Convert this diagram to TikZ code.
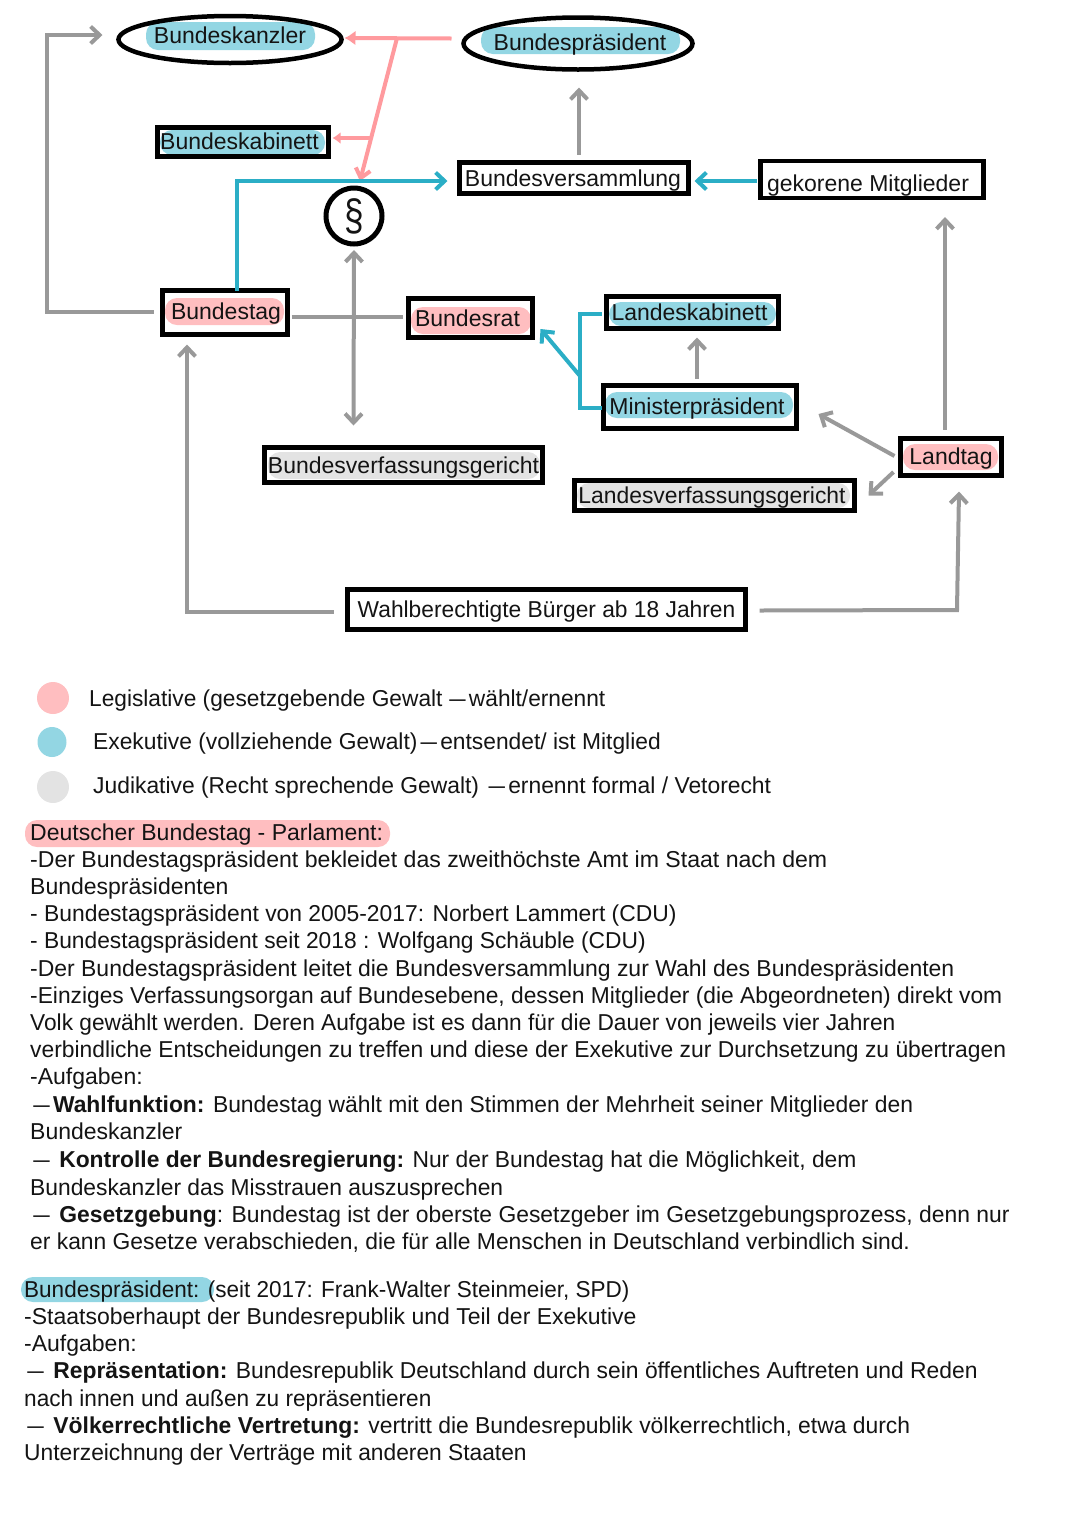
\documentclass[tikz,border=0pt]{standalone}
\usepackage{fontspec}
\setmainfont{Liberation Sans}
\usetikzlibrary{arrows.meta,shapes.geometric,calc}
\definecolor{inkc}{HTML}{141414}
\definecolor{graya}{HTML}{999999}
\definecolor{pinka}{HTML}{FF9A9E}
\definecolor{teala}{HTML}{2BAEC6}
\definecolor{pinkh}{HTML}{FFBEC0}
\definecolor{tealh}{HTML}{93D6E3}
\definecolor{grayh}{HTML}{E3E3E3}
\newcommand{\sx}[2]{\scalebox{#1}[1]{#2}}
\newcommand{\dsh}{\hspace*{3.2pt}\scalebox{0.72}[1]{—}\hspace*{3.2pt}}
\tikzset{
 boxst/.style={draw=black,line width=4.5pt,inner sep=0pt,outer sep=0pt,text=inkc,font=\fontsize{23}{27}\selectfont,text height=16pt,text depth=0pt},
 ellst/.style={boxst,ellipse},
 hl/.style={fill=#1,rounded corners=12pt},
 ln/.style={line width=4pt,line join=miter},
 gr/.style={ln,draw=graya},
 pk/.style={ln,draw=pinka},
 te/.style={ln,draw=teala},
 barb/.style={-{Straight Barb[length=9pt,width=17pt,line width=4pt]}},
 tl/.style={anchor=base west,inner sep=0pt,text=inkc,font=\fontsize{23}{27}\selectfont},
}
\begin{document}
\begin{tikzpicture}[x=1pt,y=-1pt]
\useasboundingbox (0,0) rectangle (1080,1527);
% highlights
\fill[hl=tealh] (146,22) rectangle (315,50);
\fill[hl=tealh] (481,27) rectangle (680,54);
\fill[hl=tealh] (160,130) rectangle (325,155);
\fill[hl=pinkh] (165,298) rectangle (284,325);
\fill[hl=pinkh] (411,307) rectangle (531,334);
\fill[hl=tealh] (609,302) rectangle (776,326);
\fill[hl=tealh] (605,392) rectangle (793,418);
\fill[hl=grayh] (268,452) rectangle (540,479);
\fill[hl=grayh] (577,483) rectangle (850,508);
\fill[hl=pinkh] (903,444) rectangle (998,470);
\fill[hl=pinkh] (25,820) rectangle (390,847);
\fill[hl=tealh] (21,1277) rectangle (214,1302);
% nodes
\node[ellst,minimum width=223pt,minimum height=47pt] (kanzler) at (230,39.5) {\makebox[0pt]{\raisebox{4pt}{Bundeskanzler}}};
\node[ellst,minimum width=229pt,minimum height=52pt] (praes) at (578,43.5) {\makebox[0pt]{\hspace*{4pt}\raisebox{1pt}{Bundespräsident}}};
\node[boxst,minimum width=171pt,minimum height=29pt] (kabinett) at (243,142) {\makebox[0pt]{\hspace*{-7pt}\raisebox{0.5pt}{Bundeskabinett}}};
\node[boxst,minimum width=229pt,minimum height=31pt] (bversamml) at (574,178) {\makebox[0pt]{\hspace*{-2pt}Bundesversammlung}};
\node[boxst,minimum width=223pt,minimum height=37pt] (gekoren) at (872,179.5) {\makebox[0pt]{\hspace*{-8pt}\raisebox{-4pt}{gekorene Mitglieder}}};
\node[draw=black,circle,line width=5pt,minimum size=56pt,inner sep=0pt,outer sep=0pt,text=inkc,font=\fontsize{44}{46}\selectfont] (para) at (354,216) {\makebox[0pt]{\raisebox{-2pt}{\sx{0.8}{§}}}};
\node[boxst,minimum width=125pt,minimum height=44pt] (btag) at (225,312.5) {\makebox[0pt]{\hspace*{2pt}\raisebox{1pt}{Bundestag}}};
\node[boxst,minimum width=124pt,minimum height=39pt] (brat) at (470.5,318) {\makebox[0pt]{\hspace*{-6pt}Bundesrat}};
\node[boxst,minimum width=172pt,minimum height=32pt] (lkab) at (692.5,312.5) {\makebox[0pt]{\hspace*{-6pt}Landeskabinett}};
\node[boxst,minimum width=193pt,minimum height=43pt] (minp) at (700,407) {\makebox[0pt]{\hspace*{-6pt}\raisebox{1pt}{Ministerpräsident}}};
\node[boxst,minimum width=278pt,minimum height=35pt] (bverf) at (403.5,465) {Bundesverfassungsgericht};
\node[boxst,minimum width=280pt,minimum height=30pt] (lverf) at (714.5,495.5) {\makebox[0pt]{\hspace*{-5pt}\sx{0.995}{Landesverfassungsgericht}}};
\node[boxst,minimum width=101pt,minimum height=37pt] (ltag) at (951,457) {\raisebox{1pt}{Landtag}};
\node[boxst,minimum width=398pt,minimum height=40pt] (wahl) at (546.5,609.5) {\sx{0.99}{Wahlberechtigte Bürger ab 18 Jahren}};
% junctions
\coordinate (pj1) at (397,38);
\coordinate (pj2) at (372,138);
\coordinate (tj) at (580,376);
% gray connectors
\draw[gr,barb] ($(btag.west)+(-9,-1)$) -| (47,35) -- ($(kanzler.west)+(-16,-4.5)$);
\draw[gr] ($(btag.east)+(4,4.5)$) -- ($(brat.west)+(-6,-1)$);
\draw[gr,{Straight Barb[length=9pt,width=17pt,line width=4pt]}-{Straight Barb[length=9pt,width=17pt,line width=4pt]}] (para.south |- 0,250) -- ($(bverf.north)+(-50,-22)$);
\draw[gr,barb] ($(wahl.west)+(-14,2.5)$) -| ($(btag.south)+(-38,10)$);
\draw[gr,barb] ($(wahl.east)+(14,1)$) -- (957,610) -- ($(ltag.south)+(8,16)$);
\draw[gr,barb] ($(bversamml.north)+(5,-8)$) -- ($(praes.south)+(1,18)$);
\draw[gr,barb] ($(ltag.north)+(-6,-9)$) -- ($(gekoren.south)+(73,19)$);
\draw[gr,barb] ($(minp.north)+(-3,-7)$) -- ($(lkab.south)+(4.5,9)$);
\draw[gr,barb] ($(ltag.west)+(-6,-1)$) -- ($(minp.east)+(22,7)$);
\draw[gr,barb] ($(ltag.west)+(-7,15)$) -- ($(lverf.east)+(14,0)$);
% pink connectors
\draw[pk,-{Latex[length=11pt,width=15pt]}] ($(praes.west)+(-12,-5)$) -- ($(kanzler.east)+(3,-1.5)$);
\draw[pk,-{Straight Barb[length=9pt,width=15pt,line width=4pt]}] (pj1) -- (360,181);
\draw[pk,-{Latex[length=8pt,width=12pt]}] (pj2) -- ($(kabinett.east)+(4,-4)$);
% teal connectors
\draw[te,barb] (btag.north -| 237,0) -- (237,181) -- ($(bversamml.west)+(-12,3)$);
\draw[te,barb] ($(gekoren.west)+(-4,1.5)$) -- ($(bversamml.east)+(6,3)$);
\draw[te] ($(lkab.west)+(-5,1.5)$) -| (580,408) -- ($(minp.west)+(-2,1)$);
\draw[te,barb] (tj) -- ($(brat.east)+(8,11)$);
% legend
\node[fill=pinkh,ellipse,minimum width=32pt,minimum height=32pt,inner sep=0pt] (lg1) at (53,698) {};
\node[fill=tealh,ellipse,minimum width=29pt,minimum height=30pt,inner sep=0pt] (lg2) at (52,742) {};
\node[fill=grayh,ellipse,minimum width=32pt,minimum height=32pt,inner sep=0pt] (lg3) at (53,787) {};
\node[tl] (l1) at (89,706) {\sx{0.987}{Legislative (gesetzgebende Gewalt\,\dsh wählt/ernennt}};
\node[tl] (l2) at (93,749) {\sx{0.991}{Exekutive (vollziehende Gewalt)\dsh entsendet/ ist Mitglied}};
\node[tl] (l3) at (93,793) {\sx{0.993}{Judikative (Recht sprechende Gewalt) \dsh ernennt formal / Vetorecht}};
% text block 1
\node[tl] (a1) at (30,840) {Deutscher Bundestag - Parlament:};
\node[tl] (a2) at (30,867) {\sx{1.004}{-Der Bundestagspräsident bekleidet das zweithöchste Amt im Staat nach dem}};
\node[tl] (a3) at (30,894) {Bundespräsidenten};
\node[tl] (a4) at (30,921) {\sx{0.994}{- Bundestagspräsident von 2005-2017: Norbert Lammert (CDU)}};
\node[tl] (a5) at (30,948) {\sx{0.990}{- Bundestagspräsident seit 2018 : Wolfgang Schäuble (CDU)}};
\node[tl] (a6) at (30,976) {\sx{0.998}{-Der Bundestagspräsident leitet die Bundesversammlung zur Wahl des Bundespräsidenten}};
\node[tl] (a7) at (30,1003) {\sx{0.990}{-Einziges Verfassungsorgan auf Bundesebene, dessen Mitglieder (die Abgeordneten) direkt vom}};
\node[tl] (a8) at (30,1030) {\sx{0.987}{Volk gewählt werden. Deren Aufgabe ist es dann für die Dauer von jeweils vier Jahren}};
\node[tl] (a9) at (30,1057) {\sx{0.993}{verbindliche Entscheidungen zu treffen und diese der Exekutive zur Durchsetzung zu übertragen}};
\node[tl] (a10) at (30,1084) {-Aufgaben:};
\node[tl] (a11) at (30,1112) {\sx{0.994}{\dsh\textbf{Wahlfunktion:} Bundestag wählt mit den Stimmen der Mehrheit seiner Mitglieder den}};
\node[tl] (a12) at (30,1139) {Bundeskanzler};
\node[tl] (a13) at (30,1167) {\sx{0.992}{\dsh\ \textbf{Kontrolle der Bundesregierung:} Nur der Bundestag hat die Möglichkeit, dem}};
\node[tl] (a14) at (30,1195) {\sx{0.992}{Bundeskanzler das Misstrauen auszusprechen}};
\node[tl] (a15) at (30,1222) {\sx{0.994}{\dsh\ \textbf{Gesetzgebung}: Bundestag ist der oberste Gesetzgeber im Gesetzgebungsprozess, denn nur}};
\node[tl] (a16) at (30,1249) {\sx{0.993}{er kann Gesetze verabschieden, die für alle Menschen in Deutschland verbindlich sind.}};
% text block 2
\node[tl] (b1) at (24,1297) {\sx{0.979}{Bundespräsident: (seit 2017: Frank-Walter Steinmeier, SPD)}};
\node[tl] (b2) at (24,1324) {-Staatsoberhaupt der Bundesrepublik und Teil der Exekutive};
\node[tl] (b3) at (24,1351) {-Aufgaben:};
\node[tl] (b4) at (24,1378) {\sx{0.994}{\dsh\ \textbf{Repräsentation:} Bundesrepublik Deutschland durch sein öffentliches Auftreten und Reden}};
\node[tl] (b5) at (24,1406) {\sx{0.983}{nach innen und außen zu repräsentieren}};
\node[tl] (b6) at (24,1433) {\sx{0.995}{\dsh\ \textbf{Völkerrechtliche Vertretung:} vertritt die Bundesrepublik völkerrechtlich, etwa durch}};
\node[tl] (b7) at (24,1460) {\sx{0.990}{Unterzeichnung der Verträge mit anderen Staaten}};
\end{tikzpicture}
\end{document}
